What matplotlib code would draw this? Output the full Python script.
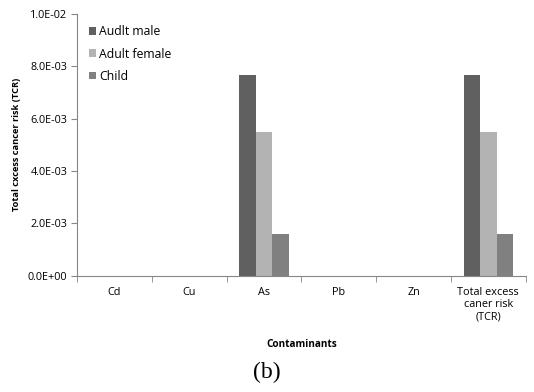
import matplotlib
matplotlib.use("Agg")
import matplotlib.pyplot as plt
import numpy as np

categories = ["Cd", "Cu", "As", "Pb", "Zn", "Total excess\ncaner risk\n(TCR)"]
male = [0, 0, 7.68e-3, 0, 0, 7.68e-3]
female = [0, 0, 5.48e-3, 0, 0, 5.48e-3]
child = [0, 0, 1.59e-3, 0, 0, 1.59e-3]
series_names = ["Audlt male", "Adult female", "Child"]
colors = ["#606060", "#b3b3b3", "#808080"]
yticks = [0, 2e-3, 4e-3, 6e-3, 8e-3, 1e-2]
ytick_labels = ["0.0E+00", "2.0E-03", "4.0E-03", "6.0E-03", "8.0E-03", "1.0E-02"]

plt.rcParams['font.family'] = ['Open Sans', 'DejaVu Sans']
fig = plt.figure(figsize=(5.34, 3.92), dpi=100)
ax = fig.add_axes([77/534, 1 - 275.7/392, (525.7-77)/534, (275.7-14)/392])

x = np.arange(len(categories))
w = 0.22
for i, (vals, name, c) in enumerate(zip([male, female, child], series_names, colors)):
    ax.bar(x + (i - 1) * w, vals, width=w, color=c, label=name, zorder=2)

ax.set_xlim(-0.5, len(categories) - 0.5)
ax.set_ylim(0, 1e-2)
ax.set_yticks(yticks)
ax.set_yticklabels(ytick_labels, fontsize=7.8)
ax.set_xticks(x)
ax.set_xticklabels(categories, fontsize=7.8, linespacing=1.15)
ax.set_xticks(np.arange(-0.5, len(categories) + 0.5, 1), minor=True)
ax.tick_params(axis='x', which='major', length=0, pad=8)
ax.tick_params(axis='x', which='minor', length=4, color='#868686', direction='out')
ax.tick_params(axis='y', length=4, color='#868686', direction='out', pad=3)
for s in ['top', 'right']:
    ax.spines[s].set_visible(False)
for s in ['left', 'bottom']:
    ax.spines[s].set_color('#868686')
    ax.spines[s].set_linewidth(0.8)

ax.set_ylabel("Total cxcess cancer risk (TCR)", fontsize=6.7, fontweight='bold', labelpad=5)
ax.set_xlabel("Contaminants", fontsize=7.2, fontweight='bold', labelpad=12)

leg = ax.legend(loc='upper left', bbox_to_anchor=(0.015, 0.975), frameon=False, fontsize=8.8,
                handlelength=0.6, handleheight=0.6, handletextpad=0.25, labelspacing=0.75,
                borderaxespad=0)

fig.text(0.5, 1 - 372/392, "(b)", ha='center', va='center', fontsize=17,
         family=['Liberation Serif', 'DejaVu Serif'])

fig.savefig("out.png", dpi=100)
